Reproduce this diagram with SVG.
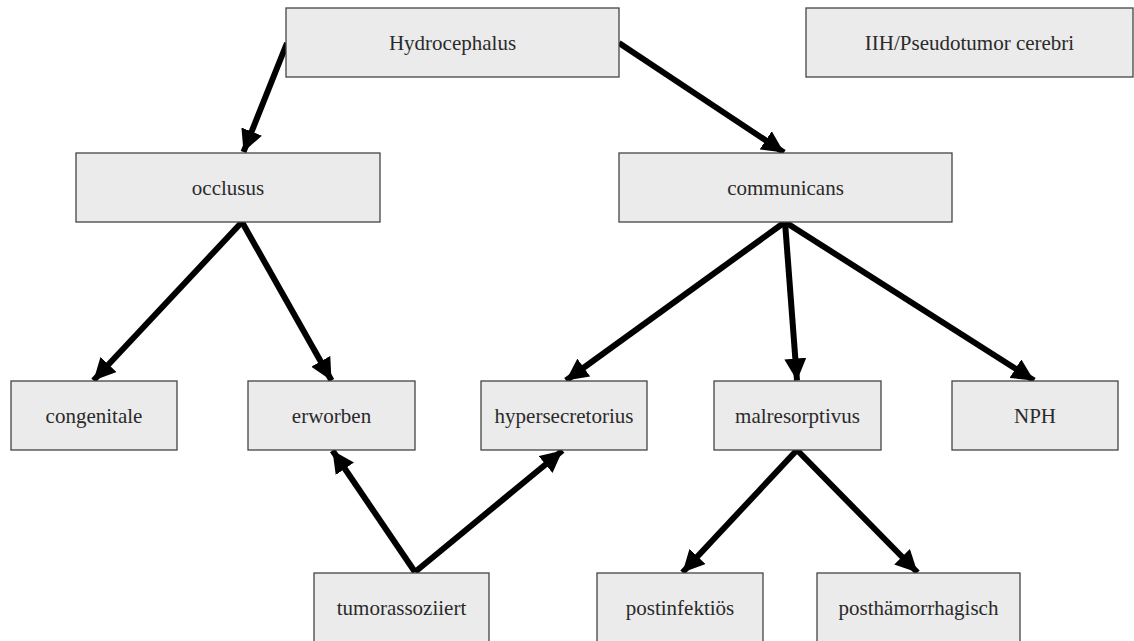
<svg xmlns="http://www.w3.org/2000/svg" width="1134" height="641" viewBox="0 0 1134 641">
<style>
.box{fill:#ebebeb;stroke:#444;stroke-width:1.3}
.lbl{font-family:"Liberation Serif","Times New Roman",serif;font-size:21px;fill:#2a2a2a;text-anchor:middle}
.con{stroke:#000;stroke-width:6;fill:none;marker-end:url(#ah)}
</style>
<defs>
<marker id="ah" markerUnits="userSpaceOnUse" markerWidth="24" markerHeight="22" refX="22" refY="11" orient="auto" viewBox="0 0 24 22">
<path d="M0,0 L22,11 L0,22 Z" fill="#000"/>
</marker>
</defs>
<rect width="1134" height="641" fill="#fff"/>
<g id="connectors">
<line class="con" x1="287" y1="43" x2="243.5" y2="152"/>
<line class="con" x1="619" y1="43" x2="784" y2="152.5"/>
<line class="con" x1="242" y1="222" x2="93.5" y2="380.5"/>
<line class="con" x1="242" y1="222" x2="331.5" y2="380.5"/>
<line class="con" x1="785" y1="222" x2="566" y2="380.5"/>
<line class="con" x1="785" y1="222" x2="797" y2="380.5"/>
<line class="con" x1="785" y1="222" x2="1034" y2="380.5"/>
<line class="con" x1="415" y1="572" x2="332.5" y2="450.5"/>
<line class="con" x1="415" y1="572" x2="562.5" y2="450.5"/>
<line class="con" x1="797" y1="450" x2="682.5" y2="572.5"/>
<line class="con" x1="797" y1="450" x2="917.5" y2="572.5"/>
</g>
<g id="hydrocephalus"><rect class="box" x="286" y="8" width="333" height="69"/><text class="lbl" x="452.5" y="49.5">Hydrocephalus</text></g>
<g id="iih"><rect class="box" x="806" y="8" width="327" height="69"/><text class="lbl" x="969.5" y="49.5">IIH/Pseudotumor cerebri</text></g>
<g id="occlusus"><rect class="box" x="76" y="153" width="304" height="69"/><text class="lbl" x="228" y="194.5">occlusus</text></g>
<g id="communicans"><rect class="box" x="619" y="153" width="333" height="69"/><text class="lbl" x="785.5" y="194.5">communicans</text></g>
<g id="congenitale"><rect class="box" x="11" y="381" width="166" height="69"/><text class="lbl" x="94" y="422.5">congenitale</text></g>
<g id="erworben"><rect class="box" x="248" y="381" width="167" height="69"/><text class="lbl" x="331.5" y="422.5">erworben</text></g>
<g id="hypersecretorius"><rect class="box" x="481" y="381" width="166" height="69"/><text class="lbl" x="564" y="422.5">hypersecretorius</text></g>
<g id="malresorptivus"><rect class="box" x="714" y="381" width="167" height="69"/><text class="lbl" x="797.5" y="422.5">malresorptivus</text></g>
<g id="nph"><rect class="box" x="952" y="381" width="166" height="69"/><text class="lbl" x="1035" y="422.5">NPH</text></g>
<g id="tumorassoziiert"><rect class="box" x="314" y="573" width="175" height="72"/><text class="lbl" x="401.5" y="614.5">tumorassoziiert</text></g>
<g id="postinfektioes"><rect class="box" x="597" y="573" width="166" height="72"/><text class="lbl" x="680" y="614.5">postinfektiös</text></g>
<g id="posthaemorrhagisch"><rect class="box" x="817" y="573" width="203" height="72"/><text class="lbl" x="918.5" y="614.5">posthämorrhagisch</text></g>
</svg>
